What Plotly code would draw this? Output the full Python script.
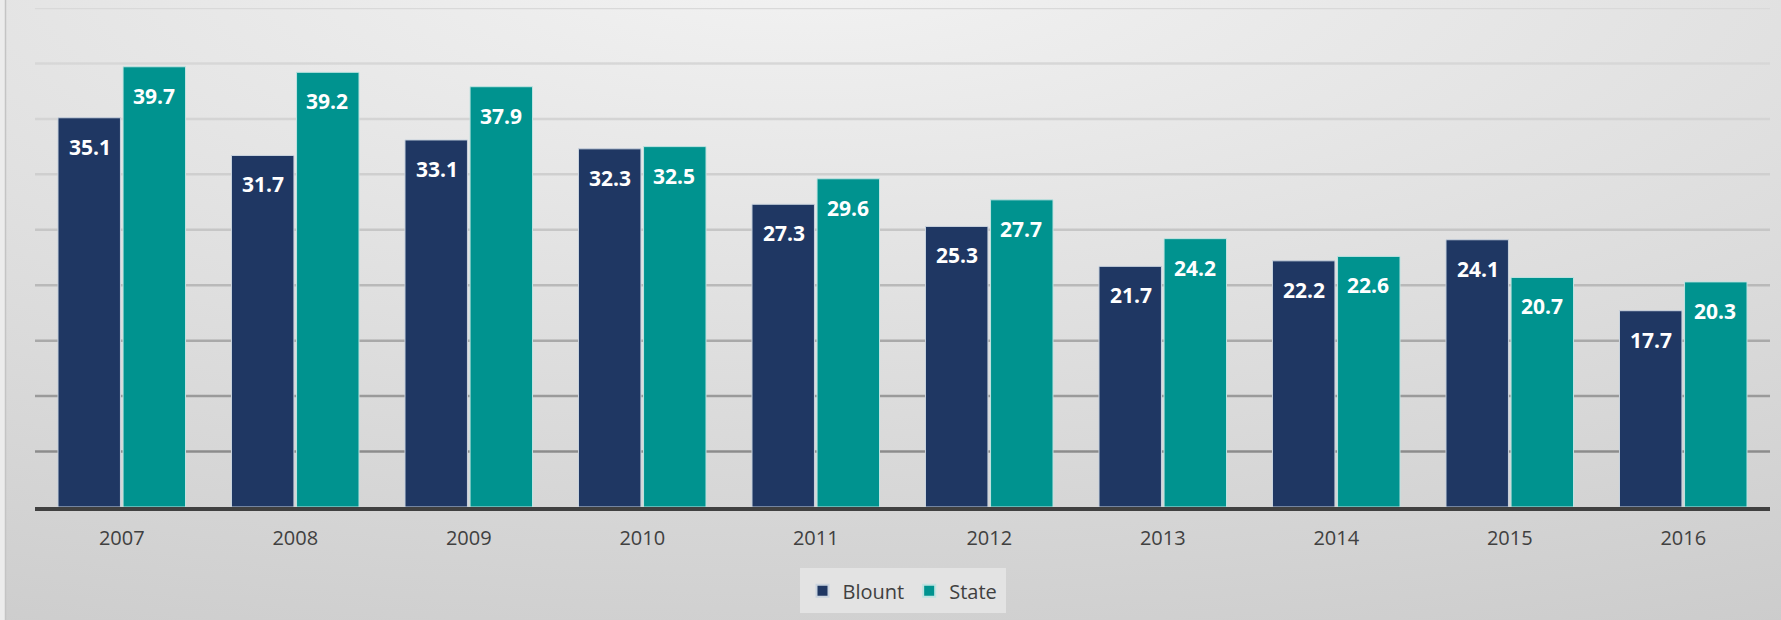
import base64
import plotly.graph_objects as go

years = ["2007", "2008", "2009", "2010", "2011", "2012", "2013", "2014", "2015", "2016"]
blount = [35.1, 31.7, 33.1, 32.3, 27.3, 25.3, 21.7, 22.2, 24.1, 17.7]
state = [39.7, 39.2, 37.9, 32.5, 29.6, 27.7, 24.2, 22.6, 20.7, 20.3]
series_names = ["Blount", "State"]

W, H = 1781, 620
ML, MR, MT, MB = 35, 11, 8, 113
PW, PH = W - ML - MR, H - MT - MB

BLUE = "#1f3763"
TEAL = "#00938f"
FONT = "Open Sans"

grid_vals = [5, 10, 15, 20, 25, 30, 35, 40, 45]
grid_cols = ["#8c8c8c", "#9a9a9a", "#a9a9a9", "#b9b9b9", "#c6c6c6",
             "#cfcfcf", "#d4d4d4", "#d7d7d7", "#d9d9d9"]

svg = f'''<svg xmlns="http://www.w3.org/2000/svg" width="{W}" height="{H}" viewBox="0 0 {W} {H}" preserveAspectRatio="none">
<defs><radialGradient id="g" cx="0.45" cy="-0.08" r="1.25" gradientUnits="objectBoundingBox">
<stop offset="0" stop-color="#f3f3f3"/><stop offset="1" stop-color="#cbcbcb"/></radialGradient></defs>
<rect x="0" y="0" width="{W}" height="{H}" fill="#ececec"/>
<rect x="6" y="0" width="{W-6}" height="{H}" fill="url(#g)"/>
<line x1="5.5" y1="0" x2="5.5" y2="{H}" stroke="#c4c4c4" stroke-width="1.5"/>
</svg>'''
src = "data:image/svg+xml;base64," + base64.b64encode(svg.encode()).decode()

fig = go.Figure()
fig.add_trace(go.Bar(x=years, y=blount, name=series_names[0], marker=dict(color=BLUE, line=dict(color="#c9d3de", width=1))))
fig.add_trace(go.Bar(x=years, y=state, name=series_names[1], marker=dict(color=TEAL, line=dict(color="#bfe3e1", width=1))))

shapes = []
for v, c in zip(grid_vals, grid_cols):
    shapes.append(dict(type="line", xref="paper", yref="y", x0=0, x1=1, y0=v, y1=v,
                       line=dict(color=c, width=2.5), layer="below"))

annotations = []
for vals, sh in ((blount, -32), (state, 32)):
    for i, v in enumerate(vals):
        annotations.append(dict(x=i, y=v, xref="x", yref="y", text=f"{v:.1f}", showarrow=False,
                                xshift=sh, yshift=-29, yanchor="middle",
                                font=dict(family=FONT, size=21, color="white", weight="bold")))

fig.update_layout(
    width=W, height=H,
    margin=dict(l=ML, r=MR, t=MT, b=MB, pad=0, autoexpand=False),
    paper_bgcolor="#dcdcdc", plot_bgcolor="rgba(0,0,0,0)",
    barmode="group", bargap=0.25, bargroupgap=0.04,
    images=[dict(source=src, xref="paper", yref="paper", x=-ML / PW, y=1 + MT / PH,
                 sizex=W / PW, sizey=H / PH, xanchor="left", yanchor="top",
                 sizing="stretch", layer="below")],
    shapes=shapes, annotations=annotations,
    font=dict(family=FONT, size=20, color="#404040"),
    xaxis=dict(type="category", range=[-0.5, len(years) - 0.5], showgrid=False, showline=True,
               linecolor="#404040", linewidth=3.5,
               ticks="outside", ticklen=10, tickcolor="rgba(0,0,0,0)",
               tickfont=dict(size=20, color="#404040")),
    yaxis=dict(range=[0, 45], showgrid=False, showticklabels=False, zeroline=False),
    legend=dict(orientation="h", x=0.5, xanchor="center", y=-0.168, yanchor="middle",
                bgcolor="#e3e3e3", bordercolor="#e3e3e3", borderwidth=3,
                font=dict(size=20, color="#404040"),
                itemsizing="constant", traceorder="normal"),
    showlegend=True,
)

fig.write_html("out.html", config={"displayModeBar": False},
               post_script="document.body.style.margin='0';document.body.style.overflow='hidden';")
